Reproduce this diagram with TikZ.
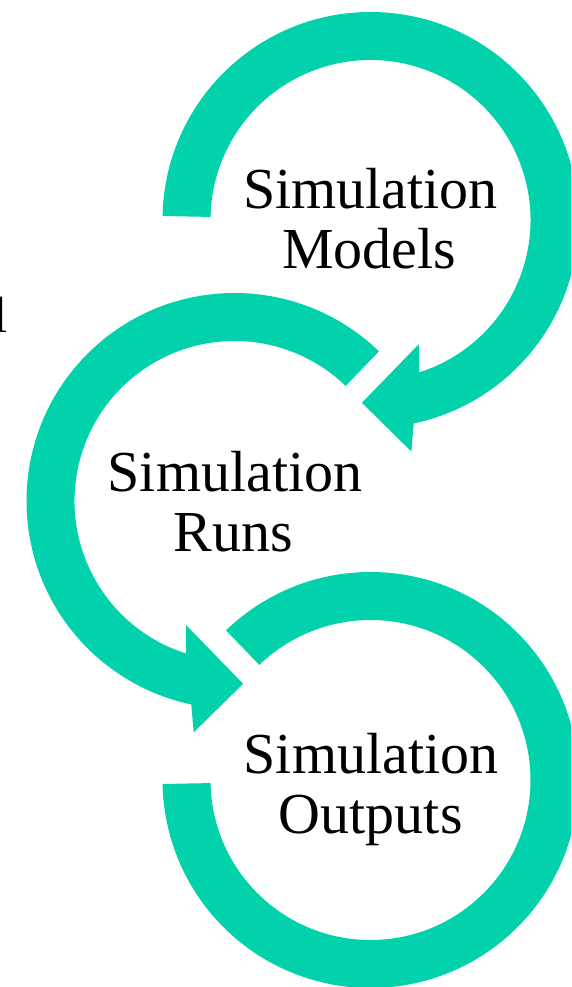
\documentclass[tikz,border=0pt]{standalone}
\usepackage{fontspec}
\setmainfont{Liberation Serif}
\usetikzlibrary{calc}
\definecolor{ringteal}{RGB}{2,210,171}
\begin{document}
\begin{tikzpicture}[x=1pt,y=1pt,
  ringfill/.style={fill=ringteal},
  ringtext/.style={font=\fontsize{58}{60}\selectfont, anchor=base, inner sep=0pt}]
\clip (0,0) rectangle (571,-987);
\coordinate (T) at (370.5,-220);
\coordinate (M) at (234.5,-501);
\coordinate (B) at (370.5,-780);
% top ring with arrow
\fill[ringfill] ($(T)+(178.9:208pt)$) arc[start angle=178.9, end angle=-78, radius=208pt]
  -- ($(T)+(-80:235pt)$) -- ($(T)+(-92.7:183pt)$) -- ($(T)+(-68.5:133pt)$)
  -- ($(T)+(-72.3:160pt)$) arc[start angle=-72.3, end angle=178.9, radius=160pt] -- cycle;
% middle ring with arrow
\fill[ringfill] ($(M)+(46:208pt)$) arc[start angle=46, end angle=258, radius=208pt]
  -- ($(M)+(260:235pt)$) -- ($(M)+(272.7:183pt)$) -- ($(M)+(248.5:133pt)$)
  -- ($(M)+(252.3:160pt)$) arc[start angle=252.3, end angle=46, radius=160pt] -- cycle;
% bottom ring
\fill[ringfill] ($(B)+(134:208pt)$) arc[start angle=134, end angle=-178.9, radius=208pt]
  -- ($(B)+(-178.9:160pt)$) arc[start angle=-178.9, end angle=134, radius=160pt] -- cycle;
% texts
\node[ringtext] (t1) at (370.5,-208.3) {Simulation};
\node[ringtext] (t2) at (369,-268.3) {Models};
\node[ringtext] (m1) at (235,-491.7) {Simulation};
\node[ringtext] (m2) at (233,-551.7) {Runs};
\node[ringtext] (b1) at (371,-773.3) {Simulation};
\node[ringtext] (b2) at (370.8,-833.3) {Outputs};
\node[font=\fontsize{51}{51}\selectfont, anchor=base west, inner sep=0pt] (frag) at (-7,-332) {l};
\end{tikzpicture}
\end{document}
